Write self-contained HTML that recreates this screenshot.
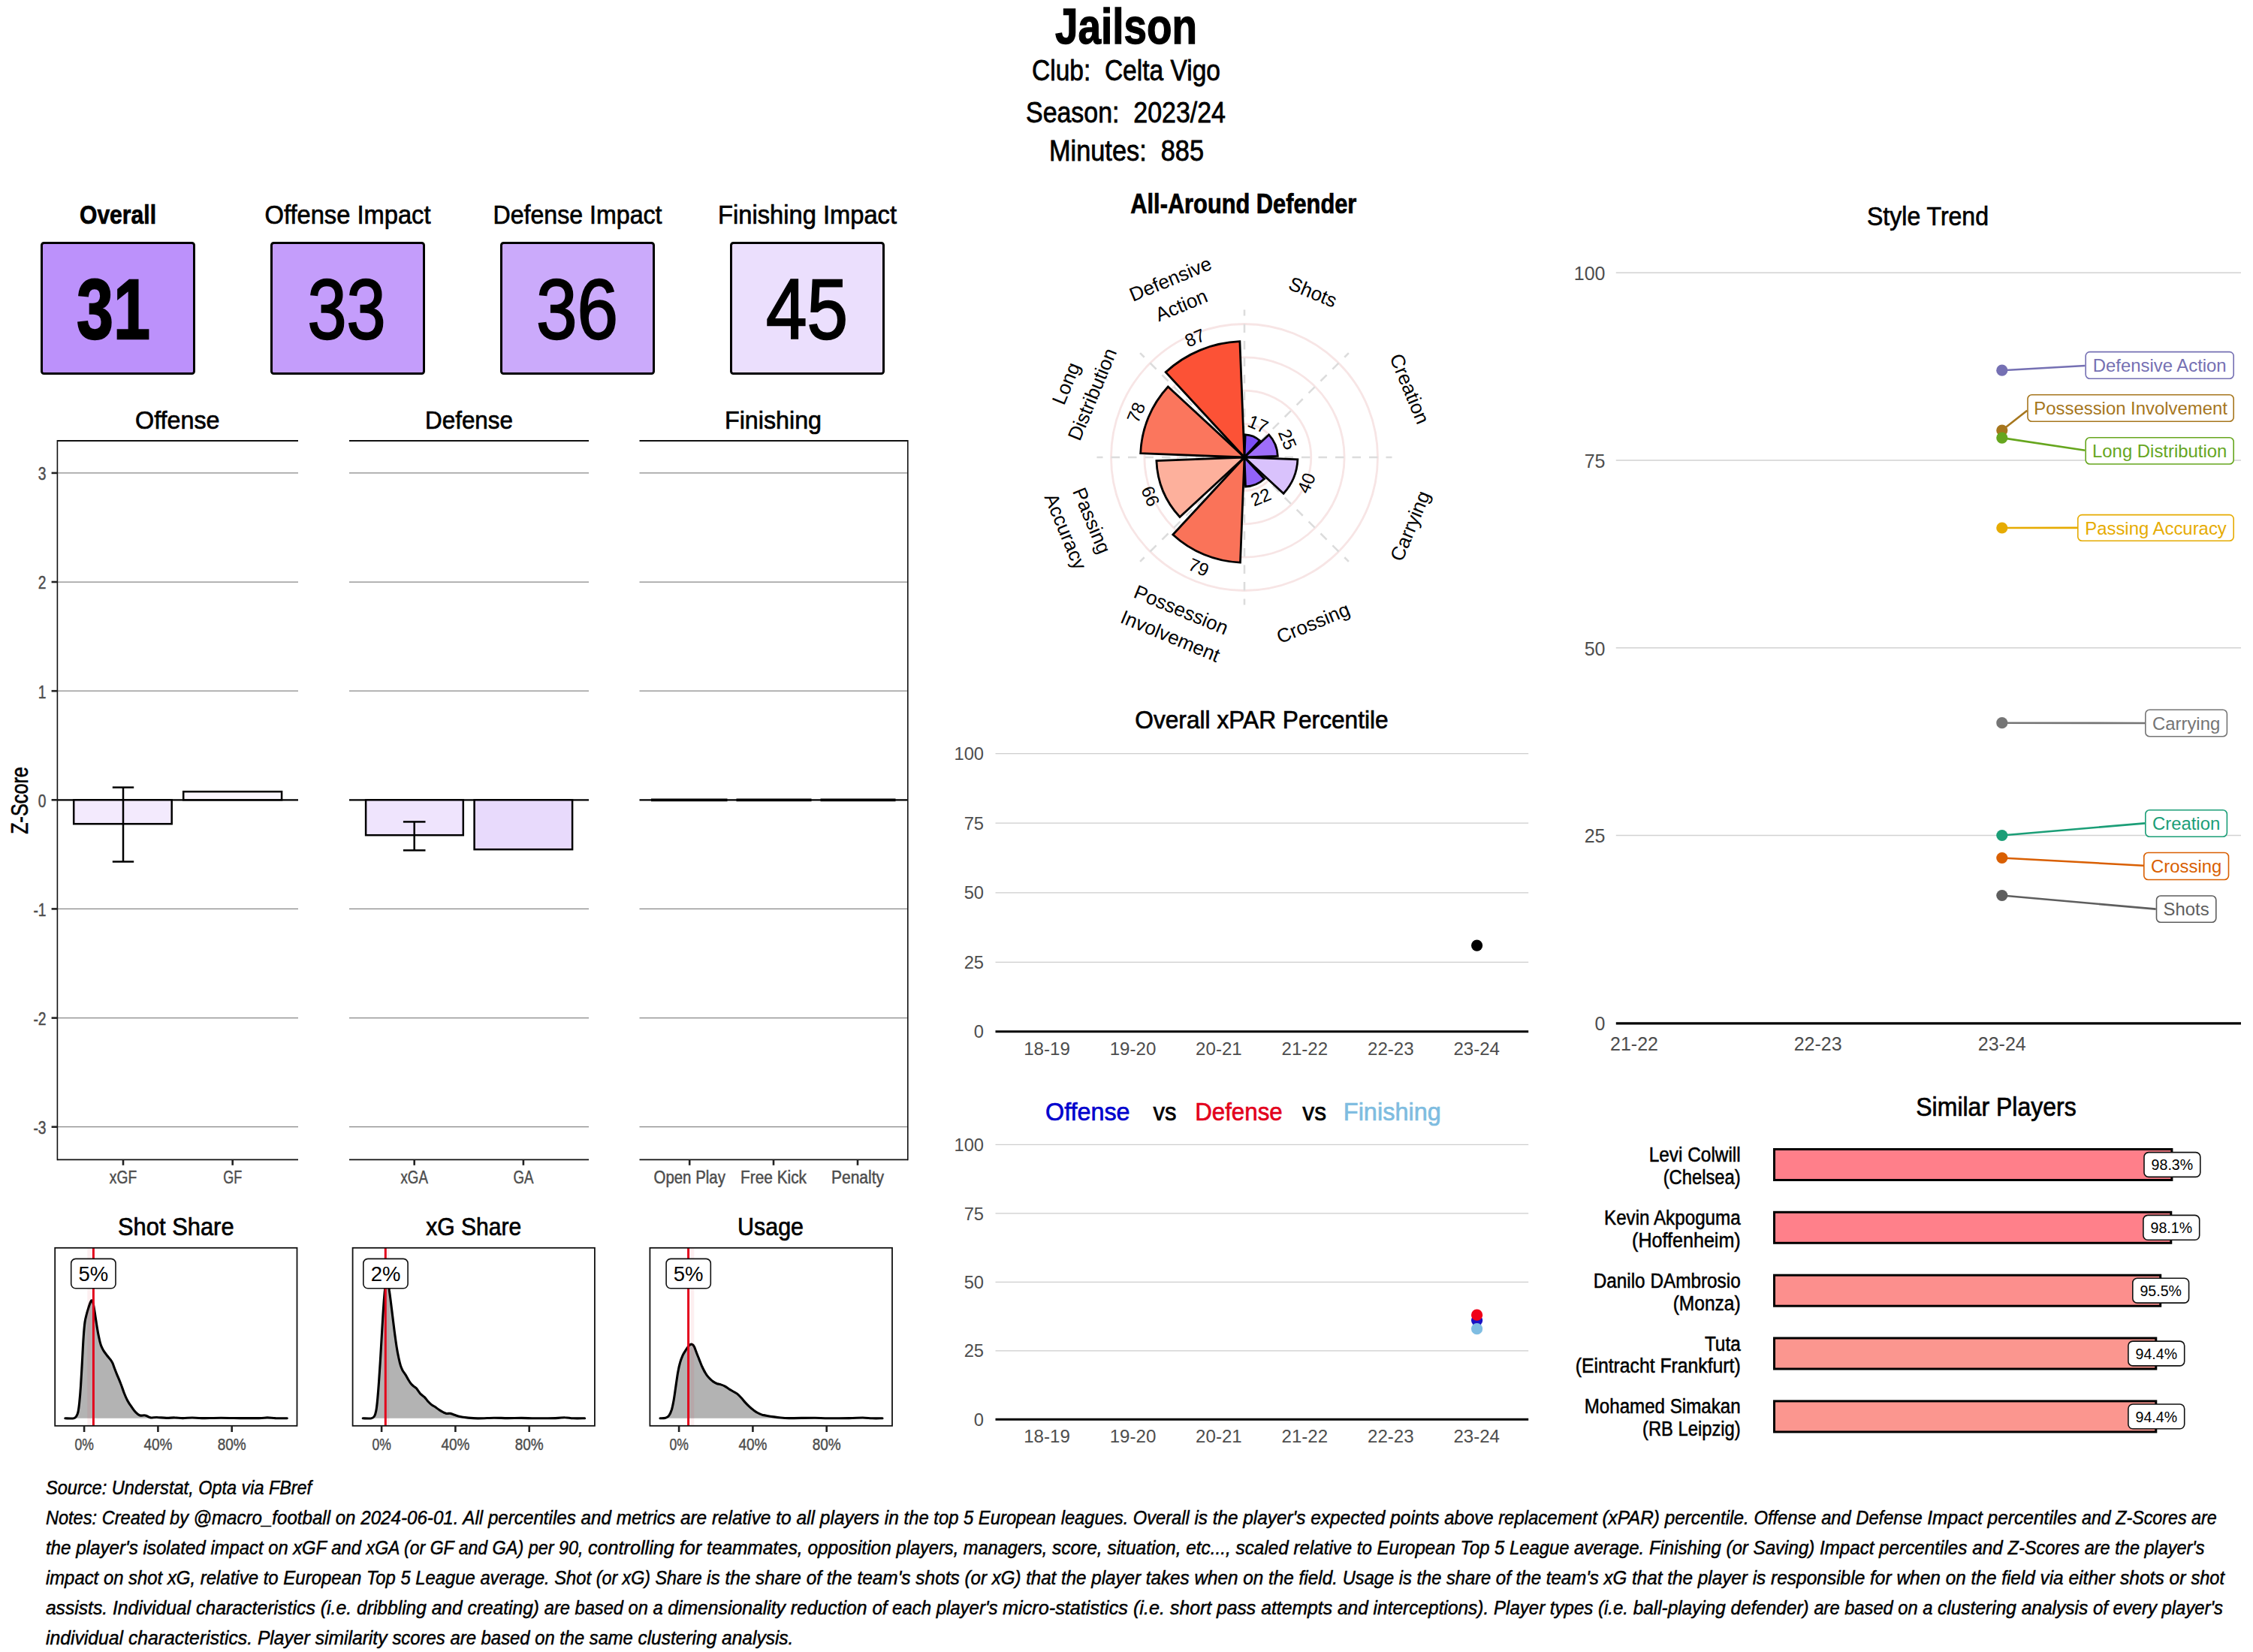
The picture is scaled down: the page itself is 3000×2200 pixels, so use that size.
<!DOCTYPE html>
<html lang="en"><head><meta charset="utf-8"><title>Jailson - Celta Vigo 2023/24</title>
<style>html,body{margin:0;padding:0;background:#fff}svg{display:block}text{font-family:"Liberation Sans",sans-serif;white-space:pre}</style></head><body>
<svg width="3000" height="2200" viewBox="0 0 3000 2200">
<rect width="3000" height="2200" fill="#fff"/>
<g id="header">
<text x="1499.5" y="57.7" font-size="66" textLength="189.0" lengthAdjust="spacingAndGlyphs" stroke="#000" stroke-width="1.32" font-weight="bold" text-anchor="middle">Jailson</text>
<text x="1499.5" y="107.0" font-size="38" textLength="251.0" lengthAdjust="spacingAndGlyphs" stroke="#000" stroke-width="0.76" text-anchor="middle">Club:  Celta Vigo</text>
<text x="1499.0" y="163.0" font-size="38" textLength="266.0" lengthAdjust="spacingAndGlyphs" stroke="#000" stroke-width="0.76" text-anchor="middle">Season:  2023/24</text>
<text x="1500.0" y="213.6" font-size="38" textLength="206.0" lengthAdjust="spacingAndGlyphs" stroke="#000" stroke-width="0.76" text-anchor="middle">Minutes:  885</text>
</g>
<g id="scores">
<rect x="55.5" y="323.5" width="203.0" height="174.0" fill="#BC91FB" stroke="#000" stroke-width="3" rx="3"/>
<text x="157.0" y="298.0" font-size="35" textLength="102.0" lengthAdjust="spacingAndGlyphs" stroke="#000" stroke-width="0.70" font-weight="bold" text-anchor="middle">Overall</text>
<text x="151.0" y="450.6" font-size="114" textLength="98.0" lengthAdjust="spacingAndGlyphs" stroke="#000" stroke-width="2.28" font-weight="bold" text-anchor="middle">31</text>
<rect x="361.5" y="323.5" width="203.0" height="174.0" fill="#C49DFB" stroke="#000" stroke-width="3" rx="3"/>
<text x="463.0" y="298.0" font-size="35" textLength="221.0" lengthAdjust="spacingAndGlyphs" stroke="#000" stroke-width="0.70" text-anchor="middle">Offense Impact</text>
<text x="461.5" y="450.6" font-size="114" textLength="104.0" lengthAdjust="spacingAndGlyphs" stroke="#000" stroke-width="2.28" text-anchor="middle">33</text>
<rect x="667.5" y="323.5" width="203.0" height="174.0" fill="#CBAAFB" stroke="#000" stroke-width="3" rx="3"/>
<text x="769.0" y="298.0" font-size="35" textLength="225.0" lengthAdjust="spacingAndGlyphs" stroke="#000" stroke-width="0.70" text-anchor="middle">Defense Impact</text>
<text x="768.5" y="450.6" font-size="114" textLength="109.0" lengthAdjust="spacingAndGlyphs" stroke="#000" stroke-width="2.28" text-anchor="middle">36</text>
<rect x="973.5" y="323.5" width="203.0" height="174.0" fill="#EBDFFD" stroke="#000" stroke-width="3" rx="3"/>
<text x="1075.0" y="298.0" font-size="35" textLength="238.0" lengthAdjust="spacingAndGlyphs" stroke="#000" stroke-width="0.70" text-anchor="middle">Finishing Impact</text>
<text x="1074.5" y="450.6" font-size="114" textLength="109.0" lengthAdjust="spacingAndGlyphs" stroke="#000" stroke-width="2.28" text-anchor="middle">45</text>
</g>
<g id="zscore">
<line x1="76.4" y1="629.9" x2="397.0" y2="629.9" stroke="#888" stroke-width="1.25"/>
<line x1="76.4" y1="775.0" x2="397.0" y2="775.0" stroke="#888" stroke-width="1.25"/>
<line x1="76.4" y1="920.2" x2="397.0" y2="920.2" stroke="#888" stroke-width="1.25"/>
<line x1="76.4" y1="1210.4" x2="397.0" y2="1210.4" stroke="#888" stroke-width="1.25"/>
<line x1="76.4" y1="1355.6" x2="397.0" y2="1355.6" stroke="#888" stroke-width="1.25"/>
<line x1="76.4" y1="1500.7" x2="397.0" y2="1500.7" stroke="#888" stroke-width="1.25"/>
<line x1="465.0" y1="629.9" x2="784.0" y2="629.9" stroke="#888" stroke-width="1.25"/>
<line x1="465.0" y1="775.0" x2="784.0" y2="775.0" stroke="#888" stroke-width="1.25"/>
<line x1="465.0" y1="920.2" x2="784.0" y2="920.2" stroke="#888" stroke-width="1.25"/>
<line x1="465.0" y1="1210.4" x2="784.0" y2="1210.4" stroke="#888" stroke-width="1.25"/>
<line x1="465.0" y1="1355.6" x2="784.0" y2="1355.6" stroke="#888" stroke-width="1.25"/>
<line x1="465.0" y1="1500.7" x2="784.0" y2="1500.7" stroke="#888" stroke-width="1.25"/>
<line x1="851.5" y1="629.9" x2="1208.8" y2="629.9" stroke="#888" stroke-width="1.25"/>
<line x1="851.5" y1="775.0" x2="1208.8" y2="775.0" stroke="#888" stroke-width="1.25"/>
<line x1="851.5" y1="920.2" x2="1208.8" y2="920.2" stroke="#888" stroke-width="1.25"/>
<line x1="851.5" y1="1210.4" x2="1208.8" y2="1210.4" stroke="#888" stroke-width="1.25"/>
<line x1="851.5" y1="1355.6" x2="1208.8" y2="1355.6" stroke="#888" stroke-width="1.25"/>
<line x1="851.5" y1="1500.7" x2="1208.8" y2="1500.7" stroke="#888" stroke-width="1.25"/>
<line x1="76.4" y1="1065.3" x2="397.0" y2="1065.3" stroke="#000" stroke-width="2.3"/>
<line x1="465.0" y1="1065.3" x2="784.0" y2="1065.3" stroke="#000" stroke-width="2.3"/>
<line x1="851.5" y1="1065.3" x2="1208.8" y2="1065.3" stroke="#000" stroke-width="2.3"/>
<line x1="867.0" y1="1065.3" x2="968.5" y2="1065.3" stroke="#000" stroke-width="3.8"/>
<line x1="980.5" y1="1065.3" x2="1080.5" y2="1065.3" stroke="#000" stroke-width="3.8"/>
<line x1="1092.5" y1="1065.3" x2="1192.5" y2="1065.3" stroke="#000" stroke-width="3.8"/>
<rect x="98.2" y="1065.3" width="130.5" height="31.9" fill="#F3EAFD" stroke="#000" stroke-width="2.5"/>
<rect x="244.2" y="1054.2" width="130.9" height="11.1" fill="#FAF6FE" stroke="#000" stroke-width="2.5"/>
<rect x="487.1" y="1065.3" width="129.7" height="46.9" fill="#EFE4FD" stroke="#000" stroke-width="2.5"/>
<rect x="631.6" y="1065.3" width="130.5" height="65.9" fill="#E8DAFC" stroke="#000" stroke-width="2.5"/>
<line x1="164.0" y1="1048.6" x2="164.0" y2="1147.5" stroke="#000" stroke-width="2.5"/>
<line x1="149.8" y1="1048.6" x2="178.2" y2="1048.6" stroke="#000" stroke-width="2.5"/>
<line x1="149.8" y1="1147.5" x2="178.2" y2="1147.5" stroke="#000" stroke-width="2.5"/>
<line x1="551.7" y1="1094.4" x2="551.7" y2="1132.4" stroke="#000" stroke-width="2.5"/>
<line x1="536.9" y1="1094.4" x2="566.5" y2="1094.4" stroke="#000" stroke-width="2.5"/>
<line x1="536.9" y1="1132.4" x2="566.5" y2="1132.4" stroke="#000" stroke-width="2.5"/>
<line x1="76.4" y1="586.1" x2="76.4" y2="1545.2" stroke="#111" stroke-width="1.6"/>
<line x1="1208.8" y1="586.1" x2="1208.8" y2="1545.2" stroke="#111" stroke-width="1.6"/>
<line x1="76.4" y1="587.0" x2="397.0" y2="587.0" stroke="#111" stroke-width="1.8"/>
<line x1="76.4" y1="1544.3" x2="397.0" y2="1544.3" stroke="#111" stroke-width="1.8"/>
<line x1="465.0" y1="587.0" x2="784.0" y2="587.0" stroke="#111" stroke-width="1.8"/>
<line x1="465.0" y1="1544.3" x2="784.0" y2="1544.3" stroke="#111" stroke-width="1.8"/>
<line x1="851.5" y1="587.0" x2="1208.8" y2="587.0" stroke="#111" stroke-width="1.8"/>
<line x1="851.5" y1="1544.3" x2="1208.8" y2="1544.3" stroke="#111" stroke-width="1.8"/>
<line x1="68.6" y1="629.9" x2="76.4" y2="629.9" stroke="#222" stroke-width="2.6"/>
<text x="61.5" y="639.3" font-size="24" textLength="10.7" lengthAdjust="spacingAndGlyphs" stroke="#4d4d4d" stroke-width="0.48" text-anchor="end" fill="#4d4d4d">3</text>
<line x1="68.6" y1="775.0" x2="76.4" y2="775.0" stroke="#222" stroke-width="2.6"/>
<text x="61.5" y="784.4" font-size="24" textLength="10.7" lengthAdjust="spacingAndGlyphs" stroke="#4d4d4d" stroke-width="0.48" text-anchor="end" fill="#4d4d4d">2</text>
<line x1="68.6" y1="920.2" x2="76.4" y2="920.2" stroke="#222" stroke-width="2.6"/>
<text x="61.5" y="929.6" font-size="24" textLength="10.7" lengthAdjust="spacingAndGlyphs" stroke="#4d4d4d" stroke-width="0.48" text-anchor="end" fill="#4d4d4d">1</text>
<line x1="68.6" y1="1065.3" x2="76.4" y2="1065.3" stroke="#222" stroke-width="2.6"/>
<text x="61.5" y="1074.7" font-size="24" textLength="10.7" lengthAdjust="spacingAndGlyphs" stroke="#4d4d4d" stroke-width="0.48" text-anchor="end" fill="#4d4d4d">0</text>
<line x1="68.6" y1="1210.4" x2="76.4" y2="1210.4" stroke="#222" stroke-width="2.6"/>
<text x="61.5" y="1219.8" font-size="24" textLength="17.1" lengthAdjust="spacingAndGlyphs" stroke="#4d4d4d" stroke-width="0.48" text-anchor="end" fill="#4d4d4d">-1</text>
<line x1="68.6" y1="1355.6" x2="76.4" y2="1355.6" stroke="#222" stroke-width="2.6"/>
<text x="61.5" y="1365.0" font-size="24" textLength="17.1" lengthAdjust="spacingAndGlyphs" stroke="#4d4d4d" stroke-width="0.48" text-anchor="end" fill="#4d4d4d">-2</text>
<line x1="68.6" y1="1500.7" x2="76.4" y2="1500.7" stroke="#222" stroke-width="2.6"/>
<text x="61.5" y="1510.1" font-size="24" textLength="17.1" lengthAdjust="spacingAndGlyphs" stroke="#4d4d4d" stroke-width="0.48" text-anchor="end" fill="#4d4d4d">-3</text>
<text font-size="31.5" textLength="89.6" lengthAdjust="spacingAndGlyphs" stroke="#000" stroke-width="0.63" text-anchor="middle" transform="translate(37.0,1066.0) rotate(-90.0)">Z-Score</text>
<line x1="164.0" y1="1544.3" x2="164.0" y2="1551.8" stroke="#222" stroke-width="2.6"/>
<text x="164.0" y="1575.8" font-size="23.5" textLength="36.3" lengthAdjust="spacingAndGlyphs" stroke="#4d4d4d" stroke-width="0.47" text-anchor="middle" fill="#4d4d4d">xGF</text>
<line x1="309.7" y1="1544.3" x2="309.7" y2="1551.8" stroke="#222" stroke-width="2.6"/>
<text x="309.7" y="1575.8" font-size="23.5" textLength="25.0" lengthAdjust="spacingAndGlyphs" stroke="#4d4d4d" stroke-width="0.47" text-anchor="middle" fill="#4d4d4d">GF</text>
<line x1="551.7" y1="1544.3" x2="551.7" y2="1551.8" stroke="#222" stroke-width="2.6"/>
<text x="551.7" y="1575.8" font-size="23.5" textLength="36.4" lengthAdjust="spacingAndGlyphs" stroke="#4d4d4d" stroke-width="0.47" text-anchor="middle" fill="#4d4d4d">xGA</text>
<line x1="696.9" y1="1544.3" x2="696.9" y2="1551.8" stroke="#222" stroke-width="2.6"/>
<text x="696.9" y="1575.8" font-size="23.5" textLength="27.0" lengthAdjust="spacingAndGlyphs" stroke="#4d4d4d" stroke-width="0.47" text-anchor="middle" fill="#4d4d4d">GA</text>
<line x1="918.2" y1="1544.3" x2="918.2" y2="1551.8" stroke="#222" stroke-width="2.6"/>
<text x="918.2" y="1575.8" font-size="23.5" textLength="95.3" lengthAdjust="spacingAndGlyphs" stroke="#4d4d4d" stroke-width="0.47" text-anchor="middle" fill="#4d4d4d">Open Play</text>
<line x1="1030.0" y1="1544.3" x2="1030.0" y2="1551.8" stroke="#222" stroke-width="2.6"/>
<text x="1030.0" y="1575.8" font-size="23.5" textLength="88.0" lengthAdjust="spacingAndGlyphs" stroke="#4d4d4d" stroke-width="0.47" text-anchor="middle" fill="#4d4d4d">Free Kick</text>
<line x1="1142.0" y1="1544.3" x2="1142.0" y2="1551.8" stroke="#222" stroke-width="2.6"/>
<text x="1142.0" y="1575.8" font-size="23.5" textLength="70.2" lengthAdjust="spacingAndGlyphs" stroke="#4d4d4d" stroke-width="0.47" text-anchor="middle" fill="#4d4d4d">Penalty</text>
<text x="236.3" y="571.0" font-size="34" textLength="112.6" lengthAdjust="spacingAndGlyphs" stroke="#000" stroke-width="0.68" text-anchor="middle">Offense</text>
<text x="624.5" y="571.0" font-size="34" textLength="117.0" lengthAdjust="spacingAndGlyphs" stroke="#000" stroke-width="0.68" text-anchor="middle">Defense</text>
<text x="1029.5" y="571.0" font-size="34" textLength="129.0" lengthAdjust="spacingAndGlyphs" stroke="#000" stroke-width="0.68" text-anchor="middle">Finishing</text>
</g>
<g id="density">
<path d="M86.8,1888.8 C88.7,1888.8 95.6,1889.2 98.1,1888.8 C100.6,1888.3 100.8,1887.4 101.7,1886.0 C102.7,1884.7 103.2,1883.6 103.9,1880.6 C104.6,1877.6 105.1,1873.6 105.7,1867.9 C106.3,1862.1 106.9,1855.2 107.5,1846.1 C108.1,1837.0 108.8,1824.3 109.4,1813.4 C110.0,1802.5 110.6,1789.5 111.2,1780.7 C111.8,1772.0 112.3,1765.9 113.0,1760.8 C113.7,1755.6 114.5,1753.2 115.4,1749.9 C116.2,1746.5 117.2,1743.6 118.1,1740.8 C119.0,1738.0 120.0,1734.6 120.8,1733.2 C121.6,1731.7 122.0,1731.4 122.6,1732.1 C123.2,1732.7 123.7,1733.9 124.4,1737.2 C125.1,1740.4 126.0,1746.5 126.8,1751.7 C127.6,1756.8 128.5,1763.2 129.3,1768.0 C130.1,1772.9 130.8,1776.8 131.7,1780.7 C132.5,1784.7 133.4,1788.6 134.4,1791.6 C135.5,1794.7 136.7,1796.6 138.0,1798.9 C139.4,1801.2 141.1,1803.3 142.6,1805.2 C144.1,1807.2 145.9,1809.0 147.1,1810.7 C148.3,1812.4 148.9,1813.3 149.9,1815.2 C150.8,1817.2 151.5,1819.8 152.6,1822.5 C153.6,1825.2 154.8,1828.2 156.2,1831.6 C157.6,1834.9 159.2,1838.5 160.7,1842.5 C162.3,1846.4 163.8,1851.4 165.3,1855.2 C166.8,1859.0 168.3,1862.3 169.8,1865.2 C171.3,1868.0 172.8,1870.2 174.4,1872.4 C175.9,1874.7 177.4,1877.0 178.9,1878.8 C180.4,1880.6 182.1,1882.3 183.4,1883.3 C184.8,1884.4 185.6,1884.9 187.1,1885.1 C188.6,1885.4 191.0,1884.6 192.5,1884.8 C194.0,1884.9 194.8,1885.5 196.2,1886.0 C197.5,1886.6 198.6,1887.6 200.7,1887.9 C202.8,1888.1 205.4,1887.4 208.9,1887.5 C212.3,1887.6 217.6,1888.3 221.6,1888.4 C225.5,1888.5 228.8,1887.8 232.5,1887.9 C236.1,1887.9 239.4,1888.6 243.4,1888.6 C247.3,1888.6 251.8,1888.0 256.1,1888.0 C260.3,1888.0 262.4,1888.6 268.8,1888.6 C275.1,1888.6 285.4,1888.2 294.2,1888.2 C303.0,1888.2 313.0,1888.5 321.4,1888.6 C329.9,1888.6 339.3,1888.7 345.0,1888.6 C350.8,1888.5 352.3,1887.9 355.9,1887.9 C359.6,1887.9 362.4,1888.4 366.8,1888.6 C371.2,1888.7 379.7,1888.7 382.3,1888.8 L382.3,1888.8 L86.8,1888.8 Z" fill="#b3b3b3"/>
<path d="M86.8,1888.8 C88.7,1888.8 95.6,1889.2 98.1,1888.8 C100.6,1888.3 100.8,1887.4 101.7,1886.0 C102.7,1884.7 103.2,1883.6 103.9,1880.6 C104.6,1877.6 105.1,1873.6 105.7,1867.9 C106.3,1862.1 106.9,1855.2 107.5,1846.1 C108.1,1837.0 108.8,1824.3 109.4,1813.4 C110.0,1802.5 110.6,1789.5 111.2,1780.7 C111.8,1772.0 112.3,1765.9 113.0,1760.8 C113.7,1755.6 114.5,1753.2 115.4,1749.9 C116.2,1746.5 117.2,1743.6 118.1,1740.8 C119.0,1738.0 120.0,1734.6 120.8,1733.2 C121.6,1731.7 122.0,1731.4 122.6,1732.1 C123.2,1732.7 123.7,1733.9 124.4,1737.2 C125.1,1740.4 126.0,1746.5 126.8,1751.7 C127.6,1756.8 128.5,1763.2 129.3,1768.0 C130.1,1772.9 130.8,1776.8 131.7,1780.7 C132.5,1784.7 133.4,1788.6 134.4,1791.6 C135.5,1794.7 136.7,1796.6 138.0,1798.9 C139.4,1801.2 141.1,1803.3 142.6,1805.2 C144.1,1807.2 145.9,1809.0 147.1,1810.7 C148.3,1812.4 148.9,1813.3 149.9,1815.2 C150.8,1817.2 151.5,1819.8 152.6,1822.5 C153.6,1825.2 154.8,1828.2 156.2,1831.6 C157.6,1834.9 159.2,1838.5 160.7,1842.5 C162.3,1846.4 163.8,1851.4 165.3,1855.2 C166.8,1859.0 168.3,1862.3 169.8,1865.2 C171.3,1868.0 172.8,1870.2 174.4,1872.4 C175.9,1874.7 177.4,1877.0 178.9,1878.8 C180.4,1880.6 182.1,1882.3 183.4,1883.3 C184.8,1884.4 185.6,1884.9 187.1,1885.1 C188.6,1885.4 191.0,1884.6 192.5,1884.8 C194.0,1884.9 194.8,1885.5 196.2,1886.0 C197.5,1886.6 198.6,1887.6 200.7,1887.9 C202.8,1888.1 205.4,1887.4 208.9,1887.5 C212.3,1887.6 217.6,1888.3 221.6,1888.4 C225.5,1888.5 228.8,1887.8 232.5,1887.9 C236.1,1887.9 239.4,1888.6 243.4,1888.6 C247.3,1888.6 251.8,1888.0 256.1,1888.0 C260.3,1888.0 262.4,1888.6 268.8,1888.6 C275.1,1888.6 285.4,1888.2 294.2,1888.2 C303.0,1888.2 313.0,1888.5 321.4,1888.6 C329.9,1888.6 339.3,1888.7 345.0,1888.6 C350.8,1888.5 352.3,1887.9 355.9,1887.9 C359.6,1887.9 362.4,1888.4 366.8,1888.6 C371.2,1888.7 379.7,1888.7 382.3,1888.8" fill="none" stroke="#000" stroke-width="3.1" stroke-linejoin="round" stroke-linecap="round"/>
<line x1="124.4" y1="1661.8" x2="124.4" y2="1898.8" stroke="#e3001b" stroke-width="3"/>
<rect x="73.2" y="1661.8" width="322.3" height="237.0" fill="none" stroke="#111" stroke-width="1.8"/>
<line x1="112.1" y1="1898.8" x2="112.1" y2="1907.0" stroke="#222" stroke-width="2.6"/>
<text x="112.1" y="1931.3" font-size="21.5" textLength="25.4" lengthAdjust="spacingAndGlyphs" stroke="#4d4d4d" stroke-width="0.43" text-anchor="middle" fill="#4d4d4d">0%</text>
<line x1="210.4" y1="1898.8" x2="210.4" y2="1907.0" stroke="#222" stroke-width="2.6"/>
<text x="210.4" y="1931.3" font-size="21.5" textLength="38.0" lengthAdjust="spacingAndGlyphs" stroke="#4d4d4d" stroke-width="0.43" text-anchor="middle" fill="#4d4d4d">40%</text>
<line x1="308.7" y1="1898.8" x2="308.7" y2="1907.0" stroke="#222" stroke-width="2.6"/>
<text x="308.7" y="1931.3" font-size="21.5" textLength="38.0" lengthAdjust="spacingAndGlyphs" stroke="#4d4d4d" stroke-width="0.43" text-anchor="middle" fill="#4d4d4d">80%</text>
<line x1="118.6" y1="1662.5" x2="118.6" y2="1898.0" stroke="#e3001b" stroke-width="4.5" opacity="0.06"/>
<rect x="94.7" y="1676.4" width="59.3" height="39.4" fill="#fff" stroke="#111" stroke-width="1.6" rx="6"/>
<text x="124.4" y="1706.2" font-size="27.5" text-anchor="middle">5%</text>
<text x="234.3" y="1645.0" font-size="33.5" textLength="154.6" lengthAdjust="spacingAndGlyphs" stroke="#000" stroke-width="0.67" text-anchor="middle">Shot Share</text>
<path d="M483.2,1888.8 C485.1,1888.8 491.9,1889.2 494.5,1888.8 C497.0,1888.3 497.4,1887.7 498.5,1886.0 C499.5,1884.4 500.1,1882.4 500.8,1878.8 C501.5,1875.1 502.0,1870.6 502.6,1864.3 C503.2,1857.9 503.9,1849.1 504.5,1840.6 C505.1,1832.2 505.7,1823.1 506.3,1813.4 C506.9,1803.7 507.5,1792.8 508.1,1782.5 C508.7,1772.3 509.3,1761.1 509.9,1751.7 C510.5,1742.3 511.1,1733.2 511.7,1726.3 C512.3,1719.3 512.9,1713.5 513.5,1709.9 C514.1,1706.3 514.7,1704.5 515.4,1704.5 C516.0,1704.5 516.7,1707.5 517.2,1709.9 C517.7,1712.3 518.0,1715.7 518.4,1719.0 C518.9,1722.3 519.2,1724.4 519.9,1729.9 C520.6,1735.3 521.7,1744.4 522.6,1751.7 C523.5,1758.9 524.4,1766.5 525.3,1773.5 C526.2,1780.4 527.2,1787.7 528.1,1793.4 C529.0,1799.2 529.9,1803.7 530.8,1808.0 C531.7,1812.2 532.6,1816.0 533.5,1818.9 C534.4,1821.7 535.2,1823.2 536.2,1825.2 C537.3,1827.2 538.7,1828.7 539.9,1830.7 C541.1,1832.6 542.3,1835.1 543.5,1837.0 C544.7,1839.0 545.9,1841.0 547.1,1842.5 C548.3,1844.0 549.5,1845.0 550.8,1846.1 C552.0,1847.2 552.9,1847.2 554.4,1848.8 C555.9,1850.5 558.0,1854.1 559.8,1856.1 C561.7,1858.0 563.6,1859.0 565.3,1860.6 C566.9,1862.3 568.3,1864.4 569.8,1866.1 C571.3,1867.7 572.8,1869.4 574.4,1870.6 C575.9,1871.8 577.1,1872.1 578.9,1873.3 C580.7,1874.5 583.3,1876.6 585.3,1877.9 C587.2,1879.1 589.2,1880.2 590.7,1881.0 C592.2,1881.7 592.8,1882.2 594.3,1882.4 C595.8,1882.7 598.0,1882.1 599.8,1882.4 C601.6,1882.7 603.1,1883.5 605.2,1884.2 C607.3,1884.9 609.8,1886.0 612.5,1886.6 C615.2,1887.2 617.6,1887.5 621.6,1887.9 C625.5,1888.3 630.0,1888.9 636.1,1888.9 C642.1,1889.0 651.2,1888.3 657.9,1888.2 C664.5,1888.2 670.0,1888.6 676.0,1888.6 C682.1,1888.6 688.1,1888.4 694.2,1888.4 C700.3,1888.4 704.8,1888.7 712.4,1888.8 C719.9,1888.8 732.9,1888.8 739.6,1888.6 C746.2,1888.4 748.4,1887.6 752.3,1887.7 C756.2,1887.7 758.8,1888.6 763.2,1888.8 C767.6,1888.9 776.1,1888.8 778.6,1888.8 L778.6,1888.8 L483.2,1888.8 Z" fill="#b3b3b3"/>
<path d="M483.2,1888.8 C485.1,1888.8 491.9,1889.2 494.5,1888.8 C497.0,1888.3 497.4,1887.7 498.5,1886.0 C499.5,1884.4 500.1,1882.4 500.8,1878.8 C501.5,1875.1 502.0,1870.6 502.6,1864.3 C503.2,1857.9 503.9,1849.1 504.5,1840.6 C505.1,1832.2 505.7,1823.1 506.3,1813.4 C506.9,1803.7 507.5,1792.8 508.1,1782.5 C508.7,1772.3 509.3,1761.1 509.9,1751.7 C510.5,1742.3 511.1,1733.2 511.7,1726.3 C512.3,1719.3 512.9,1713.5 513.5,1709.9 C514.1,1706.3 514.7,1704.5 515.4,1704.5 C516.0,1704.5 516.7,1707.5 517.2,1709.9 C517.7,1712.3 518.0,1715.7 518.4,1719.0 C518.9,1722.3 519.2,1724.4 519.9,1729.9 C520.6,1735.3 521.7,1744.4 522.6,1751.7 C523.5,1758.9 524.4,1766.5 525.3,1773.5 C526.2,1780.4 527.2,1787.7 528.1,1793.4 C529.0,1799.2 529.9,1803.7 530.8,1808.0 C531.7,1812.2 532.6,1816.0 533.5,1818.9 C534.4,1821.7 535.2,1823.2 536.2,1825.2 C537.3,1827.2 538.7,1828.7 539.9,1830.7 C541.1,1832.6 542.3,1835.1 543.5,1837.0 C544.7,1839.0 545.9,1841.0 547.1,1842.5 C548.3,1844.0 549.5,1845.0 550.8,1846.1 C552.0,1847.2 552.9,1847.2 554.4,1848.8 C555.9,1850.5 558.0,1854.1 559.8,1856.1 C561.7,1858.0 563.6,1859.0 565.3,1860.6 C566.9,1862.3 568.3,1864.4 569.8,1866.1 C571.3,1867.7 572.8,1869.4 574.4,1870.6 C575.9,1871.8 577.1,1872.1 578.9,1873.3 C580.7,1874.5 583.3,1876.6 585.3,1877.9 C587.2,1879.1 589.2,1880.2 590.7,1881.0 C592.2,1881.7 592.8,1882.2 594.3,1882.4 C595.8,1882.7 598.0,1882.1 599.8,1882.4 C601.6,1882.7 603.1,1883.5 605.2,1884.2 C607.3,1884.9 609.8,1886.0 612.5,1886.6 C615.2,1887.2 617.6,1887.5 621.6,1887.9 C625.5,1888.3 630.0,1888.9 636.1,1888.9 C642.1,1889.0 651.2,1888.3 657.9,1888.2 C664.5,1888.2 670.0,1888.6 676.0,1888.6 C682.1,1888.6 688.1,1888.4 694.2,1888.4 C700.3,1888.4 704.8,1888.7 712.4,1888.8 C719.9,1888.8 732.9,1888.8 739.6,1888.6 C746.2,1888.4 748.4,1887.6 752.3,1887.7 C756.2,1887.7 758.8,1888.6 763.2,1888.8 C767.6,1888.9 776.1,1888.8 778.6,1888.8" fill="none" stroke="#000" stroke-width="3.1" stroke-linejoin="round" stroke-linecap="round"/>
<line x1="513.3" y1="1661.8" x2="513.3" y2="1898.8" stroke="#e3001b" stroke-width="3"/>
<rect x="469.6" y="1661.8" width="322.3" height="237.0" fill="none" stroke="#111" stroke-width="1.8"/>
<line x1="508.1" y1="1898.8" x2="508.1" y2="1907.0" stroke="#222" stroke-width="2.6"/>
<text x="508.1" y="1931.3" font-size="21.5" textLength="25.4" lengthAdjust="spacingAndGlyphs" stroke="#4d4d4d" stroke-width="0.43" text-anchor="middle" fill="#4d4d4d">0%</text>
<line x1="606.4" y1="1898.8" x2="606.4" y2="1907.0" stroke="#222" stroke-width="2.6"/>
<text x="606.4" y="1931.3" font-size="21.5" textLength="38.0" lengthAdjust="spacingAndGlyphs" stroke="#4d4d4d" stroke-width="0.43" text-anchor="middle" fill="#4d4d4d">40%</text>
<line x1="704.7" y1="1898.8" x2="704.7" y2="1907.0" stroke="#222" stroke-width="2.6"/>
<text x="704.7" y="1931.3" font-size="21.5" textLength="38.0" lengthAdjust="spacingAndGlyphs" stroke="#4d4d4d" stroke-width="0.43" text-anchor="middle" fill="#4d4d4d">80%</text>
<line x1="516.8" y1="1662.5" x2="516.8" y2="1898.0" stroke="#e3001b" stroke-width="3" opacity="0.06"/>
<rect x="483.8" y="1676.4" width="59.3" height="39.4" fill="#fff" stroke="#111" stroke-width="1.6" rx="6"/>
<text x="513.5" y="1706.2" font-size="27.5" text-anchor="middle">2%</text>
<text x="630.7" y="1645.0" font-size="33.5" textLength="127.0" lengthAdjust="spacingAndGlyphs" stroke="#000" stroke-width="0.67" text-anchor="middle">xG Share</text>
<path d="M879.0,1888.8 C880.2,1888.7 884.3,1888.8 886.3,1888.2 C888.3,1887.6 889.5,1887.0 890.8,1885.1 C892.2,1883.3 893.4,1880.4 894.5,1877.0 C895.5,1873.5 896.3,1869.4 897.2,1864.3 C898.1,1859.1 899.0,1852.1 899.9,1846.1 C900.8,1840.0 901.7,1833.1 902.6,1827.9 C903.5,1822.8 904.3,1819.0 905.4,1815.2 C906.4,1811.4 907.8,1808.0 909.0,1805.2 C910.2,1802.5 911.4,1800.9 912.6,1798.9 C913.8,1796.9 915.2,1794.8 916.3,1793.4 C917.3,1792.1 918.1,1791.2 919.0,1790.7 C919.9,1790.2 920.8,1789.9 921.7,1790.4 C922.6,1790.8 923.5,1791.7 924.4,1793.4 C925.3,1795.2 926.1,1798.0 927.2,1800.7 C928.2,1803.4 929.6,1806.8 930.8,1809.8 C932.0,1812.8 933.1,1815.8 934.4,1818.9 C935.8,1821.9 937.4,1825.4 939.0,1827.9 C940.5,1830.5 941.8,1832.4 943.5,1834.3 C945.2,1836.2 947.1,1838.0 948.9,1839.4 C950.8,1840.7 952.6,1841.7 954.4,1842.5 C956.2,1843.2 958.0,1843.3 959.8,1843.9 C961.7,1844.5 963.5,1845.1 965.3,1846.1 C967.1,1847.1 968.9,1848.6 970.7,1849.7 C972.5,1850.9 974.4,1851.9 976.2,1853.0 C978.0,1854.1 979.8,1854.7 981.6,1856.1 C983.4,1857.5 985.3,1859.6 987.1,1861.5 C988.9,1863.5 990.7,1865.9 992.5,1867.9 C994.3,1869.9 996.2,1871.7 998.0,1873.3 C999.8,1875.0 1001.6,1876.5 1003.4,1877.9 C1005.2,1879.2 1007.0,1880.5 1008.9,1881.5 C1010.7,1882.5 1012.2,1883.2 1014.3,1883.9 C1016.4,1884.5 1018.8,1885.0 1021.6,1885.5 C1024.3,1886.0 1027.6,1886.5 1030.6,1886.9 C1033.7,1887.4 1036.4,1887.8 1039.7,1888.0 C1043.1,1888.3 1046.1,1888.5 1050.6,1888.6 C1055.2,1888.6 1061.2,1888.5 1067.0,1888.4 C1072.7,1888.3 1079.1,1888.2 1085.1,1888.2 C1091.2,1888.3 1095.7,1888.7 1103.3,1888.8 C1110.8,1888.8 1122.9,1888.7 1130.5,1888.6 C1138.1,1888.5 1143.5,1888.0 1148.7,1888.0 C1153.8,1888.1 1157.0,1888.6 1161.4,1888.8 C1165.8,1888.9 1172.7,1888.8 1175.0,1888.8 L1175.0,1888.8 L879.0,1888.8 Z" fill="#b3b3b3"/>
<path d="M879.0,1888.8 C880.2,1888.7 884.3,1888.8 886.3,1888.2 C888.3,1887.6 889.5,1887.0 890.8,1885.1 C892.2,1883.3 893.4,1880.4 894.5,1877.0 C895.5,1873.5 896.3,1869.4 897.2,1864.3 C898.1,1859.1 899.0,1852.1 899.9,1846.1 C900.8,1840.0 901.7,1833.1 902.6,1827.9 C903.5,1822.8 904.3,1819.0 905.4,1815.2 C906.4,1811.4 907.8,1808.0 909.0,1805.2 C910.2,1802.5 911.4,1800.9 912.6,1798.9 C913.8,1796.9 915.2,1794.8 916.3,1793.4 C917.3,1792.1 918.1,1791.2 919.0,1790.7 C919.9,1790.2 920.8,1789.9 921.7,1790.4 C922.6,1790.8 923.5,1791.7 924.4,1793.4 C925.3,1795.2 926.1,1798.0 927.2,1800.7 C928.2,1803.4 929.6,1806.8 930.8,1809.8 C932.0,1812.8 933.1,1815.8 934.4,1818.9 C935.8,1821.9 937.4,1825.4 939.0,1827.9 C940.5,1830.5 941.8,1832.4 943.5,1834.3 C945.2,1836.2 947.1,1838.0 948.9,1839.4 C950.8,1840.7 952.6,1841.7 954.4,1842.5 C956.2,1843.2 958.0,1843.3 959.8,1843.9 C961.7,1844.5 963.5,1845.1 965.3,1846.1 C967.1,1847.1 968.9,1848.6 970.7,1849.7 C972.5,1850.9 974.4,1851.9 976.2,1853.0 C978.0,1854.1 979.8,1854.7 981.6,1856.1 C983.4,1857.5 985.3,1859.6 987.1,1861.5 C988.9,1863.5 990.7,1865.9 992.5,1867.9 C994.3,1869.9 996.2,1871.7 998.0,1873.3 C999.8,1875.0 1001.6,1876.5 1003.4,1877.9 C1005.2,1879.2 1007.0,1880.5 1008.9,1881.5 C1010.7,1882.5 1012.2,1883.2 1014.3,1883.9 C1016.4,1884.5 1018.8,1885.0 1021.6,1885.5 C1024.3,1886.0 1027.6,1886.5 1030.6,1886.9 C1033.7,1887.4 1036.4,1887.8 1039.7,1888.0 C1043.1,1888.3 1046.1,1888.5 1050.6,1888.6 C1055.2,1888.6 1061.2,1888.5 1067.0,1888.4 C1072.7,1888.3 1079.1,1888.2 1085.1,1888.2 C1091.2,1888.3 1095.7,1888.7 1103.3,1888.8 C1110.8,1888.8 1122.9,1888.7 1130.5,1888.6 C1138.1,1888.5 1143.5,1888.0 1148.7,1888.0 C1153.8,1888.1 1157.0,1888.6 1161.4,1888.8 C1165.8,1888.9 1172.7,1888.8 1175.0,1888.8" fill="none" stroke="#000" stroke-width="3.1" stroke-linejoin="round" stroke-linecap="round"/>
<line x1="916.6" y1="1661.8" x2="916.6" y2="1898.8" stroke="#e3001b" stroke-width="3"/>
<rect x="865.4" y="1661.8" width="322.6" height="237.0" fill="none" stroke="#111" stroke-width="1.8"/>
<line x1="904.1" y1="1898.8" x2="904.1" y2="1907.0" stroke="#222" stroke-width="2.6"/>
<text x="904.1" y="1931.3" font-size="21.5" textLength="25.4" lengthAdjust="spacingAndGlyphs" stroke="#4d4d4d" stroke-width="0.43" text-anchor="middle" fill="#4d4d4d">0%</text>
<line x1="1002.4" y1="1898.8" x2="1002.4" y2="1907.0" stroke="#222" stroke-width="2.6"/>
<text x="1002.4" y="1931.3" font-size="21.5" textLength="38.0" lengthAdjust="spacingAndGlyphs" stroke="#4d4d4d" stroke-width="0.43" text-anchor="middle" fill="#4d4d4d">40%</text>
<line x1="1100.7" y1="1898.8" x2="1100.7" y2="1907.0" stroke="#222" stroke-width="2.6"/>
<text x="1100.7" y="1931.3" font-size="21.5" textLength="38.0" lengthAdjust="spacingAndGlyphs" stroke="#4d4d4d" stroke-width="0.43" text-anchor="middle" fill="#4d4d4d">80%</text>
<line x1="922.0" y1="1662.5" x2="922.0" y2="1898.0" stroke="#e3001b" stroke-width="4.5" opacity="0.06"/>
<rect x="887.1" y="1676.4" width="59.2" height="39.4" fill="#fff" stroke="#111" stroke-width="1.6" rx="6"/>
<text x="916.7" y="1706.2" font-size="27.5" text-anchor="middle">5%</text>
<text x="1026.0" y="1645.0" font-size="33.5" textLength="88.0" lengthAdjust="spacingAndGlyphs" stroke="#000" stroke-width="0.67" text-anchor="middle">Usage</text>
</g>
<g id="radar">
<text x="1655.8" y="284.0" font-size="36.6" textLength="301.0" lengthAdjust="spacingAndGlyphs" stroke="#000" stroke-width="0.73" font-weight="bold" text-anchor="middle">All-Around Defender</text>
<circle cx="1657" cy="609" r="44.4" fill="none" stroke="#f7e5e5" stroke-width="2.8"/>
<circle cx="1657" cy="609" r="88.8" fill="none" stroke="#f7e5e5" stroke-width="2.8"/>
<circle cx="1657" cy="609" r="133.1" fill="none" stroke="#f7e5e5" stroke-width="2.8"/>
<circle cx="1657" cy="609" r="177.5" fill="none" stroke="#f7e5e5" stroke-width="2.8"/>
<line x1="1657.0" y1="600.5" x2="1657.0" y2="412.5" stroke="#dcdcdc" stroke-width="2.6" stroke-dasharray="11.5 11"/>
<line x1="1663.0" y1="603.0" x2="1795.9" y2="470.1" stroke="#dcdcdc" stroke-width="2.6" stroke-dasharray="11.5 11"/>
<line x1="1665.5" y1="609.0" x2="1853.5" y2="609.0" stroke="#dcdcdc" stroke-width="2.6" stroke-dasharray="11.5 11"/>
<line x1="1663.0" y1="615.0" x2="1795.9" y2="747.9" stroke="#dcdcdc" stroke-width="2.6" stroke-dasharray="11.5 11"/>
<line x1="1657.0" y1="617.5" x2="1657.0" y2="805.5" stroke="#dcdcdc" stroke-width="2.6" stroke-dasharray="11.5 11"/>
<line x1="1651.0" y1="615.0" x2="1518.1" y2="747.9" stroke="#dcdcdc" stroke-width="2.6" stroke-dasharray="11.5 11"/>
<line x1="1648.5" y1="609.0" x2="1460.5" y2="609.0" stroke="#dcdcdc" stroke-width="2.6" stroke-dasharray="11.5 11"/>
<line x1="1651.0" y1="603.0" x2="1518.1" y2="470.1" stroke="#dcdcdc" stroke-width="2.6" stroke-dasharray="11.5 11"/>
<path d="M1657,609 L1658.2,578.8 A30.2,30.2 0 0 1 1677.5,586.8 Z" fill="#7C4DF7" stroke="#000" stroke-width="2.8" stroke-linejoin="miter"/>
<path d="M1657,609 L1689.6,578.9 A44.4,44.4 0 0 1 1701.3,607.3 Z" fill="#9E6EF9" stroke="#000" stroke-width="2.8" stroke-linejoin="miter"/>
<path d="M1657,609 L1727.9,611.8 A71.0,71.0 0 0 1 1709.1,657.2 Z" fill="#D9C2FC" stroke="#000" stroke-width="2.8" stroke-linejoin="miter"/>
<path d="M1657,609 L1683.5,637.7 A39.0,39.0 0 0 1 1658.5,648.0 Z" fill="#9163F8" stroke="#000" stroke-width="2.8" stroke-linejoin="miter"/>
<path d="M1657,609 L1651.5,749.1 A140.2,140.2 0 0 1 1561.8,712.0 Z" fill="#FA7359" stroke="#000" stroke-width="2.8" stroke-linejoin="miter"/>
<path d="M1657,609 L1571.0,688.5 A117.1,117.1 0 0 1 1539.9,613.6 Z" fill="#FDB09C" stroke="#000" stroke-width="2.8" stroke-linejoin="miter"/>
<path d="M1657,609 L1518.7,603.6 A138.4,138.4 0 0 1 1555.3,515.0 Z" fill="#FB765D" stroke="#000" stroke-width="2.8" stroke-linejoin="miter"/>
<path d="M1657,609 L1552.2,495.6 A154.4,154.4 0 0 1 1650.9,454.7 Z" fill="#FC5236" stroke="#000" stroke-width="2.8" stroke-linejoin="miter"/>
<text transform="translate(1675.4,564.5) rotate(22.5)" font-size="24" text-anchor="middle" y="8.6">17</text>
<text transform="translate(1748.3,388.7) rotate(22.5)" font-size="26" text-anchor="middle" y="9.3">Shots</text>
<text transform="translate(1714.6,585.1) rotate(67.5)" font-size="24" text-anchor="middle" y="8.6">25</text>
<text transform="translate(1877.3,517.7) rotate(67.5)" font-size="26" text-anchor="middle" y="9.3">Creation</text>
<text transform="translate(1739.2,643.1) rotate(-67.5)" font-size="24" text-anchor="middle" y="8.6">40</text>
<text transform="translate(1877.3,700.3) rotate(-67.5)" font-size="26" text-anchor="middle" y="9.3">Carrying</text>
<text transform="translate(1678.8,661.7) rotate(-22.5)" font-size="24" text-anchor="middle" y="8.6">22</text>
<text transform="translate(1748.3,829.3) rotate(-22.5)" font-size="26" text-anchor="middle" y="9.3">Crossing</text>
<text transform="translate(1596.4,755.2) rotate(22.5)" font-size="24" text-anchor="middle" y="8.6">79</text>
<text transform="translate(1565.7,829.3) rotate(22.5)" font-size="26" text-anchor="middle"><tspan x="0" y="-9.6">Possession</tspan><tspan x="0" y="28.2">Involvement</tspan></text>
<text transform="translate(1532.1,660.7) rotate(67.5)" font-size="24" text-anchor="middle" y="8.6">66</text>
<text transform="translate(1436.7,700.3) rotate(67.5)" font-size="26" text-anchor="middle"><tspan x="0" y="-9.6">Passing</tspan><tspan x="0" y="28.2">Accuracy</tspan></text>
<text transform="translate(1512.5,549.1) rotate(-67.5)" font-size="24" text-anchor="middle" y="8.6">78</text>
<text transform="translate(1436.7,517.7) rotate(-67.5)" font-size="26" text-anchor="middle"><tspan x="0" y="-9.6">Long</tspan><tspan x="0" y="28.2">Distribution</tspan></text>
<text transform="translate(1591.0,449.7) rotate(-22.5)" font-size="24" text-anchor="middle" y="8.6">87</text>
<text transform="translate(1565.7,388.7) rotate(-22.5)" font-size="26" text-anchor="middle"><tspan x="0" y="-9.6">Defensive</tspan><tspan x="0" y="28.2">Action</tspan></text>
</g>
<g id="xpar">
<line x1="1325.5" y1="1281.3" x2="2035.2" y2="1281.3" stroke="#cdcdcd" stroke-width="1.25"/>
<line x1="1325.5" y1="1188.8" x2="2035.2" y2="1188.8" stroke="#cdcdcd" stroke-width="1.25"/>
<line x1="1325.5" y1="1096.2" x2="2035.2" y2="1096.2" stroke="#cdcdcd" stroke-width="1.25"/>
<line x1="1325.5" y1="1003.7" x2="2035.2" y2="1003.7" stroke="#cdcdcd" stroke-width="1.25"/>
<text x="1310.0" y="1382.4" font-size="23.7" text-anchor="end" fill="#4d4d4d">0</text>
<text x="1310.0" y="1289.9" font-size="23.7" text-anchor="end" fill="#4d4d4d">25</text>
<text x="1310.0" y="1197.3" font-size="23.7" text-anchor="end" fill="#4d4d4d">50</text>
<text x="1310.0" y="1104.8" font-size="23.7" text-anchor="end" fill="#4d4d4d">75</text>
<text x="1310.0" y="1012.3" font-size="23.7" text-anchor="end" fill="#4d4d4d">100</text>
<line x1="1325.5" y1="1373.8" x2="2035.2" y2="1373.8" stroke="#000" stroke-width="3"/>
<text x="1394.0" y="1405.0" font-size="24.1" text-anchor="middle" fill="#4d4d4d">18-19</text>
<text x="1508.5" y="1405.0" font-size="24.1" text-anchor="middle" fill="#4d4d4d">19-20</text>
<text x="1622.9" y="1405.0" font-size="24.1" text-anchor="middle" fill="#4d4d4d">20-21</text>
<text x="1737.3" y="1405.0" font-size="24.1" text-anchor="middle" fill="#4d4d4d">21-22</text>
<text x="1851.8" y="1405.0" font-size="24.1" text-anchor="middle" fill="#4d4d4d">22-23</text>
<text x="1966.2" y="1405.0" font-size="24.1" text-anchor="middle" fill="#4d4d4d">23-24</text>
<text x="1680.0" y="969.9" font-size="34" textLength="337.5" lengthAdjust="spacingAndGlyphs" stroke="#000" stroke-width="0.68" text-anchor="middle">Overall xPAR Percentile</text>
<circle cx="1966.6" cy="1259.1" r="7.6" fill="#000"/>
</g><g id="ovd">
<line x1="1325.5" y1="1798.8" x2="2035.2" y2="1798.8" stroke="#cdcdcd" stroke-width="1.25"/>
<line x1="1325.5" y1="1707.3" x2="2035.2" y2="1707.3" stroke="#cdcdcd" stroke-width="1.25"/>
<line x1="1325.5" y1="1615.9" x2="2035.2" y2="1615.9" stroke="#cdcdcd" stroke-width="1.25"/>
<line x1="1325.5" y1="1524.4" x2="2035.2" y2="1524.4" stroke="#cdcdcd" stroke-width="1.25"/>
<text x="1310.0" y="1898.8" font-size="23.7" text-anchor="end" fill="#4d4d4d">0</text>
<text x="1310.0" y="1807.3" font-size="23.7" text-anchor="end" fill="#4d4d4d">25</text>
<text x="1310.0" y="1715.9" font-size="23.7" text-anchor="end" fill="#4d4d4d">50</text>
<text x="1310.0" y="1624.5" font-size="23.7" text-anchor="end" fill="#4d4d4d">75</text>
<text x="1310.0" y="1533.0" font-size="23.7" text-anchor="end" fill="#4d4d4d">100</text>
<line x1="1325.5" y1="1890.2" x2="2035.2" y2="1890.2" stroke="#000" stroke-width="3"/>
<text x="1394.0" y="1921.0" font-size="24.1" text-anchor="middle" fill="#4d4d4d">18-19</text>
<text x="1508.5" y="1921.0" font-size="24.1" text-anchor="middle" fill="#4d4d4d">19-20</text>
<text x="1622.9" y="1921.0" font-size="24.1" text-anchor="middle" fill="#4d4d4d">20-21</text>
<text x="1737.3" y="1921.0" font-size="24.1" text-anchor="middle" fill="#4d4d4d">21-22</text>
<text x="1851.8" y="1921.0" font-size="24.1" text-anchor="middle" fill="#4d4d4d">22-23</text>
<text x="1966.2" y="1921.0" font-size="24.1" text-anchor="middle" fill="#4d4d4d">23-24</text>
<text x="1392.0" y="1492.0" font-size="34" textLength="112.6" lengthAdjust="spacingAndGlyphs" stroke="#0000cd" stroke-width="0.68" fill="#0000cd">Offense</text>
<text x="1535.5" y="1492.0" font-size="34" textLength="31.0" lengthAdjust="spacingAndGlyphs" stroke="#000" stroke-width="0.68">vs</text>
<text x="1591.2" y="1492.0" font-size="34" textLength="116.5" lengthAdjust="spacingAndGlyphs" stroke="#e3001b" stroke-width="0.68" fill="#e3001b">Defense</text>
<text x="1734.3" y="1492.0" font-size="34" textLength="31.7" lengthAdjust="spacingAndGlyphs" stroke="#000" stroke-width="0.68">vs</text>
<text x="1788.8" y="1492.0" font-size="34" textLength="130.0" lengthAdjust="spacingAndGlyphs" stroke="#7ebce0" stroke-width="0.68" fill="#7ebce0">Finishing</text>
<circle cx="1966.6" cy="1758.5" r="7.6" fill="#1a12c4"/>
<circle cx="1966.6" cy="1751.2" r="7.6" fill="#f00018"/>
<circle cx="1966.6" cy="1769.7" r="7.6" fill="#7fbde2"/>
</g>
<g id="trend">
<text x="2567.0" y="299.7" font-size="35" textLength="162.0" lengthAdjust="spacingAndGlyphs" stroke="#000" stroke-width="0.70" text-anchor="middle">Style Trend</text>
<line x1="2151.8" y1="1112.5" x2="2984.0" y2="1112.5" stroke="#d2d2d2" stroke-width="1.5"/>
<line x1="2151.8" y1="862.8" x2="2984.0" y2="862.8" stroke="#d2d2d2" stroke-width="1.5"/>
<line x1="2151.8" y1="613.0" x2="2984.0" y2="613.0" stroke="#d2d2d2" stroke-width="1.5"/>
<line x1="2151.8" y1="363.3" x2="2984.0" y2="363.3" stroke="#d2d2d2" stroke-width="1.5"/>
<text x="2137.5" y="1372.1" font-size="25" text-anchor="end" fill="#4d4d4d">0</text>
<text x="2137.5" y="1122.3" font-size="25" text-anchor="end" fill="#4d4d4d">25</text>
<text x="2137.5" y="872.6" font-size="25" text-anchor="end" fill="#4d4d4d">50</text>
<text x="2137.5" y="622.8" font-size="25" text-anchor="end" fill="#4d4d4d">75</text>
<text x="2137.5" y="373.1" font-size="25" text-anchor="end" fill="#4d4d4d">100</text>
<line x1="2151.8" y1="1362.8" x2="2984.0" y2="1362.8" stroke="#000" stroke-width="3.2"/>
<text x="2176.0" y="1399.0" font-size="25" text-anchor="middle" fill="#4d4d4d">21-22</text>
<text x="2420.7" y="1399.0" font-size="25" text-anchor="middle" fill="#4d4d4d">22-23</text>
<text x="2665.8" y="1399.0" font-size="25" text-anchor="middle" fill="#4d4d4d">23-24</text>
<line x1="2665.8" y1="493.2" x2="2776.4" y2="487.0" stroke="#7570b3" stroke-width="2.6"/>
<line x1="2665.8" y1="573.1" x2="2699.2" y2="546.7" stroke="#a6761d" stroke-width="2.6"/>
<line x1="2665.8" y1="583.1" x2="2776.4" y2="599.7" stroke="#66a61e" stroke-width="2.6"/>
<line x1="2665.8" y1="703.0" x2="2766.0" y2="702.9" stroke="#e6ab02" stroke-width="2.6"/>
<line x1="2665.8" y1="962.7" x2="2856.0" y2="963.0" stroke="#757575" stroke-width="2.6"/>
<line x1="2665.8" y1="1112.5" x2="2856.0" y2="1096.4" stroke="#1b9e77" stroke-width="2.6"/>
<line x1="2665.8" y1="1142.5" x2="2854.0" y2="1152.7" stroke="#d95f02" stroke-width="2.6"/>
<line x1="2665.8" y1="1192.5" x2="2870.7" y2="1210.6" stroke="#5e5e5e" stroke-width="2.6"/>
<circle cx="2665.8" cy="493.2" r="7.6" fill="#7570b3"/>
<rect x="2777.2" y="468.6" width="197.0" height="35.6" fill="#fff" stroke="#7570b3" stroke-width="1.6" rx="5.5"/>
<text x="2875.7" y="495.2" font-size="23.9" text-anchor="middle" fill="#7570b3">Defensive Action</text>
<circle cx="2665.8" cy="573.1" r="7.6" fill="#a6761d"/>
<rect x="2700.0" y="525.8" width="274.2" height="35.4" fill="#fff" stroke="#a6761d" stroke-width="1.6" rx="5.5"/>
<text x="2837.1" y="552.3" font-size="23.9" text-anchor="middle" fill="#a6761d">Possession Involvement</text>
<circle cx="2665.8" cy="583.1" r="7.6" fill="#66a61e"/>
<rect x="2777.2" y="582.8" width="197.0" height="35.2" fill="#fff" stroke="#66a61e" stroke-width="1.6" rx="5.5"/>
<text x="2875.7" y="609.2" font-size="23.9" text-anchor="middle" fill="#66a61e">Long Distribution</text>
<circle cx="2665.8" cy="703.0" r="7.6" fill="#e6ab02"/>
<rect x="2766.8" y="685.6" width="207.4" height="34.6" fill="#fff" stroke="#e6ab02" stroke-width="1.6" rx="5.5"/>
<text x="2870.5" y="711.7" font-size="23.9" text-anchor="middle" fill="#e6ab02">Passing Accuracy</text>
<circle cx="2665.8" cy="962.7" r="7.6" fill="#757575"/>
<rect x="2856.8" y="945.3" width="108.6" height="35.5" fill="#fff" stroke="#757575" stroke-width="1.6" rx="5.5"/>
<text x="2911.1" y="971.8" font-size="23.9" text-anchor="middle" fill="#757575">Carrying</text>
<circle cx="2665.8" cy="1112.5" r="7.6" fill="#1b9e77"/>
<rect x="2856.8" y="1078.8" width="108.6" height="35.4" fill="#fff" stroke="#1b9e77" stroke-width="1.6" rx="5.5"/>
<text x="2911.1" y="1105.3" font-size="23.9" text-anchor="middle" fill="#1b9e77">Creation</text>
<circle cx="2665.8" cy="1142.5" r="7.6" fill="#d95f02"/>
<rect x="2854.8" y="1135.5" width="112.7" height="36.0" fill="#fff" stroke="#d95f02" stroke-width="1.6" rx="5.5"/>
<text x="2911.2" y="1162.3" font-size="23.9" text-anchor="middle" fill="#d95f02">Crossing</text>
<circle cx="2665.8" cy="1192.5" r="7.6" fill="#5e5e5e"/>
<rect x="2871.5" y="1193.0" width="79.3" height="35.2" fill="#fff" stroke="#5e5e5e" stroke-width="1.6" rx="5.5"/>
<text x="2911.1" y="1219.4" font-size="23.9" text-anchor="middle" fill="#5e5e5e">Shots</text>
</g>
<g id="similar">
<text x="2658.0" y="1486.0" font-size="34.5" textLength="213.5" lengthAdjust="spacingAndGlyphs" stroke="#000" stroke-width="0.69" text-anchor="middle">Similar Players</text>
<rect x="2362.5" y="1530.5" width="529.4" height="41.0" fill="#FF7F8A" stroke="#000" stroke-width="3"/>
<rect x="2855.0" y="1534.6" width="74.8" height="32.8" fill="#fff" stroke="#111" stroke-width="1.6" rx="6"/>
<text x="2892.4" y="1558.3" font-size="19.6" text-anchor="middle">98.3%</text>
<text x="2317.7" y="1547.0" font-size="27" textLength="122.0" lengthAdjust="spacingAndGlyphs" stroke="#000" stroke-width="0.54" text-anchor="end">Levi Colwill</text>
<text x="2317.7" y="1576.8" font-size="27" textLength="103.0" lengthAdjust="spacingAndGlyphs" stroke="#000" stroke-width="0.54" text-anchor="end">(Chelsea)</text>
<rect x="2362.5" y="1614.3" width="528.3" height="41.0" fill="#FF808A" stroke="#000" stroke-width="3"/>
<rect x="2853.9" y="1618.4" width="74.8" height="32.8" fill="#fff" stroke="#111" stroke-width="1.6" rx="6"/>
<text x="2891.3" y="1642.1" font-size="19.6" text-anchor="middle">98.1%</text>
<text x="2317.7" y="1630.8" font-size="27" textLength="181.7" lengthAdjust="spacingAndGlyphs" stroke="#000" stroke-width="0.54" text-anchor="end">Kevin Akpoguma</text>
<text x="2317.7" y="1660.6" font-size="27" textLength="144.6" lengthAdjust="spacingAndGlyphs" stroke="#000" stroke-width="0.54" text-anchor="end">(Hoffenheim)</text>
<rect x="2362.5" y="1698.2" width="514.2" height="41.0" fill="#FC8F8D" stroke="#000" stroke-width="3"/>
<rect x="2839.8" y="1702.3" width="74.8" height="32.8" fill="#fff" stroke="#111" stroke-width="1.6" rx="6"/>
<text x="2877.2" y="1726.0" font-size="19.6" text-anchor="middle">95.5%</text>
<text x="2317.7" y="1714.7" font-size="27" textLength="196.0" lengthAdjust="spacingAndGlyphs" stroke="#000" stroke-width="0.54" text-anchor="end">Danilo DAmbrosio</text>
<text x="2317.7" y="1744.5" font-size="27" textLength="90.0" lengthAdjust="spacingAndGlyphs" stroke="#000" stroke-width="0.54" text-anchor="end">(Monza)</text>
<rect x="2362.5" y="1782.0" width="508.3" height="41.0" fill="#FB968F" stroke="#000" stroke-width="3"/>
<rect x="2833.9" y="1786.1" width="74.8" height="32.8" fill="#fff" stroke="#111" stroke-width="1.6" rx="6"/>
<text x="2871.3" y="1809.8" font-size="19.6" text-anchor="middle">94.4%</text>
<text x="2317.7" y="1798.5" font-size="27" textLength="47.8" lengthAdjust="spacingAndGlyphs" stroke="#000" stroke-width="0.54" text-anchor="end">Tuta</text>
<text x="2317.7" y="1828.3" font-size="27" textLength="220.0" lengthAdjust="spacingAndGlyphs" stroke="#000" stroke-width="0.54" text-anchor="end">(Eintracht Frankfurt)</text>
<rect x="2362.5" y="1865.9" width="508.3" height="41.0" fill="#FB968F" stroke="#000" stroke-width="3"/>
<rect x="2833.9" y="1870.0" width="74.8" height="32.8" fill="#fff" stroke="#111" stroke-width="1.6" rx="6"/>
<text x="2871.3" y="1893.7" font-size="19.6" text-anchor="middle">94.4%</text>
<text x="2317.7" y="1882.4" font-size="27" textLength="208.0" lengthAdjust="spacingAndGlyphs" stroke="#000" stroke-width="0.54" text-anchor="end">Mohamed Simakan</text>
<text x="2317.7" y="1912.2" font-size="27" textLength="130.7" lengthAdjust="spacingAndGlyphs" stroke="#000" stroke-width="0.54" text-anchor="end">(RB Leipzig)</text>
</g>
<g id="footer">
<text y="1989.8" font-size="26.7" font-style="italic" stroke="#000" stroke-width="0.5">
<tspan x="60.9" textLength="203.4" lengthAdjust="spacingAndGlyphs">Source: Understat, </tspan>
<tspan x="264.3" textLength="150.8" lengthAdjust="spacingAndGlyphs">Opta via FBref</tspan>
</text>
<text y="2030.0" font-size="26.7" font-style="italic" stroke="#000" stroke-width="0.5">
<tspan x="60.9" textLength="196.7" lengthAdjust="spacingAndGlyphs">Notes: Created by </tspan>
<tspan x="257.6" textLength="222.6" lengthAdjust="spacingAndGlyphs">@macro_football on </tspan>
<tspan x="480.2" textLength="169.7" lengthAdjust="spacingAndGlyphs">2024-06-01. All </tspan>
<tspan x="649.9" textLength="170.8" lengthAdjust="spacingAndGlyphs">percentiles and </tspan>
<tspan x="820.7" textLength="212.5" lengthAdjust="spacingAndGlyphs">metrics are relative </tspan>
<tspan x="1033.2" textLength="170.4" lengthAdjust="spacingAndGlyphs">to all players in </tspan>
<tspan x="1203.6" textLength="209.1" lengthAdjust="spacingAndGlyphs">the top 5 European </tspan>
<tspan x="1412.7" textLength="177.7" lengthAdjust="spacingAndGlyphs">leagues. Overall </tspan>
<tspan x="1590.4" textLength="154.8" lengthAdjust="spacingAndGlyphs">is the player's </tspan>
<tspan x="1745.2" textLength="178.1" lengthAdjust="spacingAndGlyphs">expected points </tspan>
<tspan x="1923.3" textLength="210.2" lengthAdjust="spacingAndGlyphs">above replacement </tspan>
<tspan x="2133.5" textLength="202.0" lengthAdjust="spacingAndGlyphs">(xPAR) percentile. </tspan>
<tspan x="2335.5" textLength="230.7" lengthAdjust="spacingAndGlyphs">Offense and Defense </tspan>
<tspan x="2566.2" textLength="205.8" lengthAdjust="spacingAndGlyphs">Impact percentiles </tspan>
<tspan x="2772.0" textLength="179.6" lengthAdjust="spacingAndGlyphs">and Z-Scores are</tspan>
</text>
<text y="2069.7" font-size="26.7" font-style="italic" stroke="#000" stroke-width="0.5">
<tspan x="60.9" textLength="219.6" lengthAdjust="spacingAndGlyphs">the player's isolated </tspan>
<tspan x="280.5" textLength="207.1" lengthAdjust="spacingAndGlyphs">impact on xGF and </tspan>
<tspan x="487.6" textLength="168.0" lengthAdjust="spacingAndGlyphs">xGA (or GF and </tspan>
<tspan x="655.6" textLength="127.4" lengthAdjust="spacingAndGlyphs">GA) per 90, </tspan>
<tspan x="783.0" textLength="158.1" lengthAdjust="spacingAndGlyphs">controlling for </tspan>
<tspan x="941.1" textLength="252.4" lengthAdjust="spacingAndGlyphs">teammates, opposition </tspan>
<tspan x="1193.5" textLength="207.4" lengthAdjust="spacingAndGlyphs">players, managers, </tspan>
<tspan x="1400.9" textLength="178.4" lengthAdjust="spacingAndGlyphs">score, situation, </tspan>
<tspan x="1579.3" textLength="143.3" lengthAdjust="spacingAndGlyphs">etc..., scaled </tspan>
<tspan x="1722.6" textLength="222.0" lengthAdjust="spacingAndGlyphs">relative to European </tspan>
<tspan x="1944.6" textLength="151.5" lengthAdjust="spacingAndGlyphs">Top 5 League </tspan>
<tspan x="2096.1" textLength="202.3" lengthAdjust="spacingAndGlyphs">average. Finishing </tspan>
<tspan x="2298.4" textLength="203.7" lengthAdjust="spacingAndGlyphs">(or Saving) Impact </tspan>
<tspan x="2502.1" textLength="171.4" lengthAdjust="spacingAndGlyphs">percentiles and </tspan>
<tspan x="2673.5" textLength="182.1" lengthAdjust="spacingAndGlyphs">Z-Scores are the </tspan>
<tspan x="2855.6" textLength="79.9" lengthAdjust="spacingAndGlyphs">player's</tspan>
</text>
<text y="2109.6" font-size="26.7" font-style="italic" stroke="#000" stroke-width="0.5">
<tspan x="60.9" textLength="205.8" lengthAdjust="spacingAndGlyphs">impact on shot xG, </tspan>
<tspan x="266.7" textLength="221.3" lengthAdjust="spacingAndGlyphs">relative to European </tspan>
<tspan x="488.0" textLength="151.4" lengthAdjust="spacingAndGlyphs">Top 5 League </tspan>
<tspan x="639.4" textLength="154.3" lengthAdjust="spacingAndGlyphs">average. Shot </tspan>
<tspan x="793.7" textLength="147.4" lengthAdjust="spacingAndGlyphs">(or xG) Share </tspan>
<tspan x="941.1" textLength="159.6" lengthAdjust="spacingAndGlyphs">is the share of </tspan>
<tspan x="1100.7" textLength="183.8" lengthAdjust="spacingAndGlyphs">the team's shots </tspan>
<tspan x="1284.5" textLength="168.7" lengthAdjust="spacingAndGlyphs">(or xG) that the </tspan>
<tspan x="1453.2" textLength="137.2" lengthAdjust="spacingAndGlyphs">player takes </tspan>
<tspan x="1590.4" textLength="197.3" lengthAdjust="spacingAndGlyphs">when on the field. </tspan>
<tspan x="1787.7" textLength="204.1" lengthAdjust="spacingAndGlyphs">Usage is the share </tspan>
<tspan x="1991.8" textLength="181.2" lengthAdjust="spacingAndGlyphs">of the team's xG </tspan>
<tspan x="2173.0" textLength="185.0" lengthAdjust="spacingAndGlyphs">that the player is </tspan>
<tspan x="2358.0" textLength="232.8" lengthAdjust="spacingAndGlyphs">responsible for when </tspan>
<tspan x="2590.8" textLength="163.6" lengthAdjust="spacingAndGlyphs">on the field via </tspan>
<tspan x="2754.4" textLength="163.0" lengthAdjust="spacingAndGlyphs">either shots or </tspan>
<tspan x="2917.4" textLength="44.6" lengthAdjust="spacingAndGlyphs">shot</tspan>
</text>
<text y="2149.7" font-size="26.7" font-style="italic" stroke="#000" stroke-width="0.5">
<tspan x="60.9" textLength="200.0" lengthAdjust="spacingAndGlyphs">assists. Individual </tspan>
<tspan x="260.9" textLength="214.2" lengthAdjust="spacingAndGlyphs">characteristics (i.e. </tspan>
<tspan x="475.1" textLength="249.7" lengthAdjust="spacingAndGlyphs">dribbling and creating) </tspan>
<tspan x="724.8" textLength="164.4" lengthAdjust="spacingAndGlyphs">are based on a </tspan>
<tspan x="889.2" textLength="272.2" lengthAdjust="spacingAndGlyphs">dimensionality reduction </tspan>
<tspan x="1161.4" textLength="173.7" lengthAdjust="spacingAndGlyphs">of each player's </tspan>
<tspan x="1335.1" textLength="222.9" lengthAdjust="spacingAndGlyphs">micro-statistics (i.e. </tspan>
<tspan x="1558.0" textLength="223.0" lengthAdjust="spacingAndGlyphs">short pass attempts </tspan>
<tspan x="1781.0" textLength="208.1" lengthAdjust="spacingAndGlyphs">and interceptions). </tspan>
<tspan x="1989.1" textLength="185.6" lengthAdjust="spacingAndGlyphs">Player types (i.e. </tspan>
<tspan x="2174.7" textLength="240.7" lengthAdjust="spacingAndGlyphs">ball-playing defender) </tspan>
<tspan x="2415.4" textLength="164.6" lengthAdjust="spacingAndGlyphs">are based on a </tspan>
<tspan x="2580.0" textLength="207.1" lengthAdjust="spacingAndGlyphs">clustering analysis </tspan>
<tspan x="2787.1" textLength="172.9" lengthAdjust="spacingAndGlyphs">of every player's</tspan>
</text>
<text y="2189.5" font-size="26.7" font-style="italic" stroke="#000" stroke-width="0.5">
<tspan x="60.9" textLength="282.0" lengthAdjust="spacingAndGlyphs">individual characteristics. </tspan>
<tspan x="342.9" textLength="179.5" lengthAdjust="spacingAndGlyphs">Player similarity </tspan>
<tspan x="522.4" textLength="189.9" lengthAdjust="spacingAndGlyphs">scores are based </tspan>
<tspan x="712.3" textLength="137.1" lengthAdjust="spacingAndGlyphs">on the same </tspan>
<tspan x="849.4" textLength="207.0" lengthAdjust="spacingAndGlyphs">clustering analysis.</tspan>
</text>
</g>
</svg></body></html>
